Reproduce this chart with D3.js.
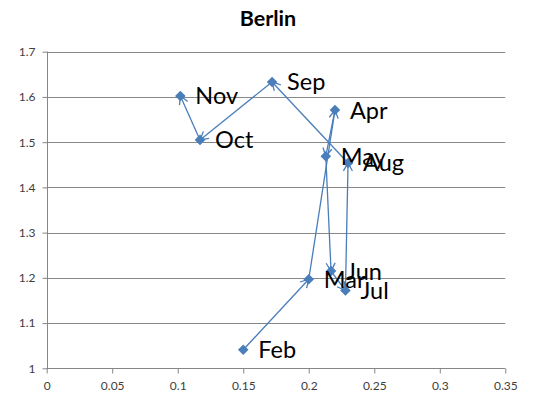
<!DOCTYPE html>
<html>
<head>
<meta charset="utf-8">
<script src="https://cdn.jsdelivr.net/npm/d3@7"></script>
<style>
  html, body { margin: 0; padding: 0; background: #fff; }
  svg { display: block; }
</style>
</head>
<body>
<svg id="chart" width="534" height="396"></svg>
<script>
// Monthly path for Berlin (x vs y), drawn in month order with arrows
const months = ["Feb", "Mar", "Apr", "May", "Jun", "Jul", "Aug", "Sep", "Oct", "Nov"];
const xValues = [0.150, 0.200, 0.220, 0.213, 0.217, 0.228, 0.230, 0.172, 0.117, 0.102];
const yValues = [1.041, 1.197, 1.571, 1.469, 1.215, 1.172, 1.454, 1.633, 1.505, 1.602];
const xTicks = [0, 0.05, 0.1, 0.15, 0.2, 0.25, 0.3, 0.35];
const yTicks = [1, 1.1, 1.2, 1.3, 1.4, 1.5, 1.6, 1.7];
const title = "Berlin";

const svg = d3.select("#chart");
const W = 534, H = 396;
const margin = { left: 46.7, right: 534 - 505.3, top: 51.7, bottom: 396 - 368.3 };

const x = d3.scaleLinear().domain([0, 0.35]).range([margin.left, W - margin.right]);
const y = d3.scaleLinear().domain([1, 1.7]).range([H - margin.bottom, margin.top]);

const blue = "#4A7EBB";
const axisGrey = "#868686";
const textGrey = "#404040";
const font = "Lato, 'Open Sans', sans-serif";

// Horizontal gridlines
svg.append("g")
  .selectAll("line")
  .data(yTicks.filter(d => d !== 1))
  .join("line")
  .attr("x1", x(0)).attr("x2", x(0.35))
  .attr("y1", d => Math.round(y(d)) + 0.5).attr("y2", d => Math.round(y(d)) + 0.5)
  .attr("stroke", "#888").attr("stroke-width", 1);

// Axes
const fmt = d => String(+d.toFixed(2));
const yAxis = d3.axisLeft(y).tickValues(yTicks).tickSize(5).tickPadding(7).tickFormat(fmt);
const xAxis = d3.axisBottom(x).tickValues(xTicks).tickSize(5).tickPadding(8).tickFormat(fmt);

const gy = svg.append("g").attr("transform", `translate(${Math.round(x(0)) + 0.5},0)`).call(yAxis);
const gx = svg.append("g").attr("transform", `translate(0,${Math.round(y(1)) + 0.5})`).call(xAxis);
[gx, gy].forEach(g => {
  g.selectAll("path.domain").attr("stroke", axisGrey);
  g.selectAll(".tick line").attr("stroke", axisGrey);
  g.selectAll(".tick text").attr("fill", textGrey).style("font-family", font).style("font-size", "12px");
});
gy.selectAll("path.domain").attr("d", `M0,${y(1.7)}V${y(1) + 0.5}`);
gx.selectAll("path.domain").attr("d", `M${x(0)},0H${x(0.35)}`);

// Arrowhead marker (open V)
svg.append("defs").append("marker")
  .attr("id", "arrow")
  .attr("viewBox", "-10 -6 12 12")
  .attr("refX", 0).attr("refY", 0)
  .attr("markerWidth", 12).attr("markerHeight", 12)
  .attr("markerUnits", "userSpaceOnUse")
  .attr("orient", "auto")
  .append("path")
  .attr("d", "M-8,-4.5L0,0L-8,4.5")
  .attr("fill", "none")
  .attr("stroke", blue)
  .attr("stroke-width", 1.3);

const pts = months.map((m, i) => ({ m, x: xValues[i], y: yValues[i] }));
const segs = d3.pairs(pts);

// Connecting segments with arrows
svg.append("g")
  .selectAll("line")
  .data(segs)
  .join("line")
  .attr("x1", d => x(d[0].x)).attr("y1", d => y(d[0].y))
  .attr("x2", d => x(d[1].x)).attr("y2", d => y(d[1].y))
  .attr("stroke", blue).attr("stroke-width", 1.3)
  .attr("marker-end", "url(#arrow)");

// Diamond markers
svg.append("g")
  .selectAll("path")
  .data(pts)
  .join("path")
  .attr("d", d3.symbol(d3.symbolSquare, 56)())
  .attr("transform", d => `translate(${x(d.x)},${y(d.y)}) rotate(45)`)
  .attr("fill", blue);

// Month labels
svg.append("g")
  .selectAll("text")
  .data(pts)
  .join("text")
  .attr("x", d => x(d.x) + 15)
  .attr("y", d => y(d.y))
  .attr("dy", "0.36em")
  .attr("fill", "#000")
  .style("font-family", font)
  .style("font-size", "23.5px")
  .text(d => d.m);

// Title
svg.append("text")
  .attr("x", 268).attr("y", 26)
  .attr("text-anchor", "middle")
  .attr("fill", "#000")
  .style("font-family", font)
  .style("font-weight", "bold")
  .style("font-size", "21.5px")
  .text(title);
</script>
</body>
</html>
